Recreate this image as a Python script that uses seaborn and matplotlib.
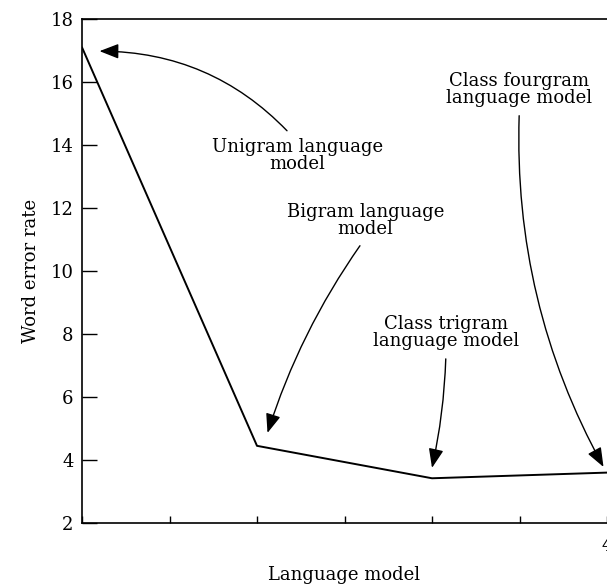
import matplotlib
matplotlib.use("Agg")
import matplotlib.pyplot as plt
import pandas as pd
import seaborn as sns

# data
model_order = [1, 2, 3, 4]
word_error = [17.1, 4.45, 3.42, 3.6]

x_ticks = [1, 1.5, 2, 2.5, 3, 3.5, 4]
x_tick_labels = ["", "", "", "", "", "", "4"]
y_ticks = [2, 4, 6, 8, 10, 12, 14, 16, 18]

notes = ["Unigram language\nmodel", "Bigram language\nmodel",
         "Class trigram\nlanguage model", "Class fourgram\nlanguage model"]
note_tips = [(1.10, 16.98), (2.06, 4.86), (3.0, 3.75), (3.98, 3.78)]
note_text = [(2.23, 13.1), (2.62, 11.05), (3.08, 7.49), (3.50, 15.21)]
note_rad = [0.22, 0.08, -0.05, 0.14]
note_rel = [(0.48, 1), (0.5, 0), (0.5, 0), (0.5, 0)]

sns.set_style("ticks")
plt.rcParams["font.family"] = ["DejaVu Serif"]
plt.rcParams["text.color"] = "black"
plt.rcParams["axes.labelcolor"] = "black"
plt.rcParams["xtick.color"] = "black"
plt.rcParams["ytick.color"] = "black"

df = pd.DataFrame({"Language model": model_order, "Word error rate": word_error})

fig = plt.figure(figsize=(6.07, 5.86), dpi=100)
ax = fig.add_axes([82 / 607, 63 / 586, 525 / 607, 504 / 586])

sns.lineplot(data=df, x="Language model", y="Word error rate", ax=ax,
             color="black", linewidth=1.4)

ax.set_xlim(1, 4)
ax.set_ylim(2, 18)
ax.set_xticks(x_ticks)
ax.set_xticklabels(x_tick_labels)
ax.set_yticks(y_ticks)
ax.tick_params(axis="y", direction="in", length=11, width=1, labelsize=13, pad=6)
ax.tick_params(axis="x", direction="in", length=5, width=1, labelsize=13, pad=10)
ax.spines["right"].set_visible(False)
for s in ["left", "top", "bottom"]:
    ax.spines[s].set_linewidth(1.2)
    ax.spines[s].set_color("black")

ax.set_xlabel("Language model", fontsize=13, labelpad=8)
ax.set_ylabel("Word error rate", fontsize=13, labelpad=8)

for txt, tip, pos, rad, rel in zip(notes, note_tips, note_text, note_rad, note_rel):
    ax.annotate(txt, xy=tip, xytext=pos, ha="center", va="bottom",
                fontsize=13, linespacing=0.95,
                arrowprops=dict(arrowstyle="-|>,head_length=0.9,head_width=0.35",
                                color="black", lw=1, relpos=rel,
                                connectionstyle=f"arc3,rad={rad}",
                                shrinkA=4, shrinkB=0))

fig.savefig("out.png", dpi=100)
